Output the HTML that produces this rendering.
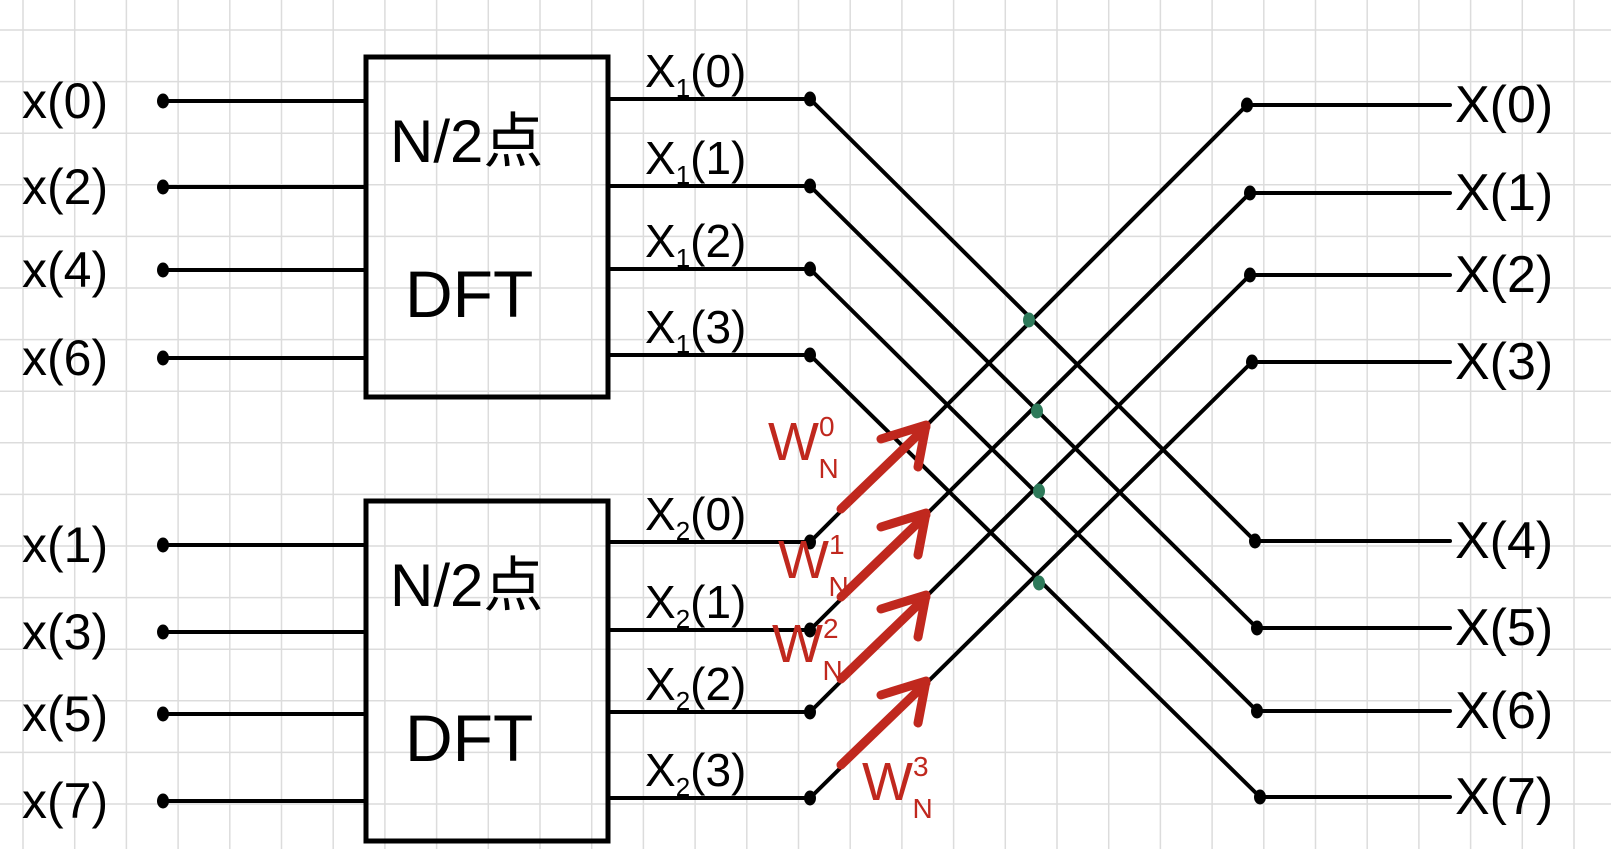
<!DOCTYPE html>
<html><head><meta charset="utf-8"><style>
html,body{margin:0;padding:0;background:#fff;}
svg{display:block;}
text{font-family:"Liberation Sans","Noto Sans CJK SC",sans-serif;}
</style></head><body>
<svg id="fig" width="1611" height="849" viewBox="0 0 1611 849" xmlns="http://www.w3.org/2000/svg">
<g id="grid" stroke="#dcdcdc" stroke-width="1.5"></g>
<g id="wires" stroke="#000" stroke-width="4" fill="none" stroke-linecap="round"></g>
<g id="dots" fill="#000"></g>
<g id="labels" fill="#000"></g>
<g id="boxes"></g>
<g id="arrows" stroke="#c0281e" fill="none" stroke-width="9" stroke-linecap="round" stroke-linejoin="round"></g>
</svg>
<script>
const inputLabels=["x(0)","x(2)","x(4)","x(6)","x(1)","x(3)","x(5)","x(7)"];
const outputLabels=["X(0)","X(1)","X(2)","X(3)","X(4)","X(5)","X(6)","X(7)"];
const midLabels=["0","1","2","3"];
const twiddleExps=["0","1","2","3"];
const inY=[101,187,270,358,545,632,714,801];
const midY=[99,186,269,355,542,630,712,798];
const outY=[105,193,275,362,541,628,711,797];
const outX=[1247,1250,1250,1252,1255,1257,1257,1260];
const NS="http://www.w3.org/2000/svg";
function mk(tag,attrs,parent){const e=document.createElementNS(NS,tag);for(const k in attrs)e.setAttribute(k,attrs[k]);parent.appendChild(e);return e;}
const grid=document.getElementById('grid');
for(let x=23;x<1611;x+=51.7){const l=mk('line',{x1:x,y1:0,x2:x,y2:849},grid);

}
for(let y=30;y<849;y+=51.6){const l=mk('line',{x1:0,y1:y,x2:1611,y2:y},grid);

}
const wires=document.getElementById('wires'),dots=document.getElementById('dots'),labels=document.getElementById('labels');
function dot(x,y,r,c){const d=mk('ellipse',{cx:x,cy:y,rx:r,ry:r+1.5,fill:c||'#000'},dots);

}
for(let i=0;i<8;i++){
  const w=mk('line',{x1:163,y1:inY[i],x2:366,y2:inY[i]},wires);
  
  
  dot(163,inY[i],6);
  const t=mk('text',{x:22,y:inY[i]+17,'font-size':50},labels);t.textContent=inputLabels[i];
  
  
  const m=mk('line',{x1:608,y1:midY[i],x2:810,y2:midY[i]},wires);
  
  
  dot(810,midY[i],6);
  const o=mk('line',{x1:outX[i],y1:outY[i],x2:1450,y2:outY[i]},wires);
  
  
  dot(outX[i],outY[i],6);
  const ot=mk('text',{x:1455,y:outY[i]+17,'font-size':52},labels);ot.textContent=outputLabels[i];
  
  
}
for(let i=0;i<4;i++){
  const a=mk('line',{x1:810,y1:midY[i],x2:outX[i+4],y2:outY[i+4]},wires);
  
  
  const b=mk('line',{x1:810,y1:midY[i+4],x2:outX[i],y2:outY[i]},wires);
  
  
  for(let g=0;g<2;g++){
    const t=mk('text',{x:645,y:midY[i+4*g]-12,'font-size':46},labels);
    t.innerHTML='X<tspan font-size="26" dy="10">'+(g+1)+'</tspan><tspan dy="-10">('+midLabels[i]+')</tspan>';
    
    
  }
}
[[1029,320],[1037,411],[1039,491],[1039,583]].forEach(p=>dot(p[0],p[1],6,'#2e7a5a'));
const boxes=document.getElementById('boxes');
[57,501].forEach(y0=>{
  const r=mk('rect',{x:366,y:y0,width:242,height:340,fill:'none',stroke:'#000','stroke-width':5},boxes);
  
  
  const t1=mk('text',{x:390,y:y0+105,'font-size':60},boxes);t1.textContent='N/2点';
  
  
  const t2=mk('text',{x:405,y:y0+260,'font-size':66},boxes);t2.textContent='DFT';
  
  
});
const arrows=document.getElementById('arrows');
const wPos=[[768,460],[778,578],[772,662],[862,800]];
for(let i=0;i<4;i++){
  const x=811,y=midY[i+4];
  const sx=x+30,sy=y-33,ex=x+115,ey=y-115;
  const p=mk('path',{d:`M${sx},${sy} L${ex},${ey} M${ex-45},${ey+12} L${ex},${ey-2} L${ex-8},${ey+40}`},arrows);
  
  
  const t=mk('text',{x:wPos[i][0],y:wPos[i][1],'font-size':54,fill:'#c0281e',stroke:'none'},labels);
  t.innerHTML='W<tspan font-size="28" dy="-24">'+twiddleExps[i]+'</tspan><tspan font-size="28" dx="-16" dy="42">N</tspan>';
  
  
}
</script>
</body></html>
